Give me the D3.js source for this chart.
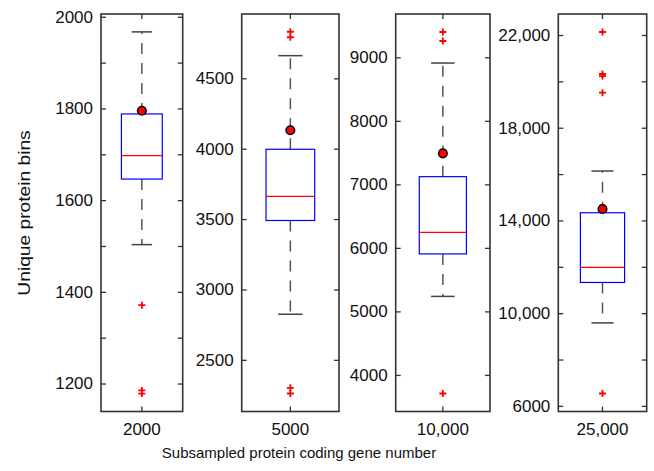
<!DOCTYPE html>
<html>
<head>
<meta charset="utf-8">
<script src="https://cdn.jsdelivr.net/npm/d3@7"></script>
<style>
  body { margin: 0; background: #fff; }
  text { font-family: "Liberation Sans", Arial, Helvetica, sans-serif; fill: #111; }
</style>
</head>
<body>
<div id="chart"></div>
<script>
// # Data.
const categories = ['2000', '5000', '10,000', '25,000']
const q1 = [1646, 3490, 5905, 11325]
const medians = [1697, 3661, 6243, 11972]
const q3 = [1788, 3996, 7121, 14332]
const whiskerLow = [1503, 2824, 5236, 9581]
const whiskerHigh = [1967, 4661, 8910, 16132]
const means = [1795, 4131, 7488, 14492]
const outliers = [
    [1371, 1185, 1178],
    [4831, 4792, 2301, 2261],
    [9399, 9257, 3707],
    [22130, 20317, 20230, 19510, 6535]
]

// # Axis settings for each panel.
const yDomains = [[1139, 2006], [2133, 4957], [3424, 9682], [5758, 22906]]
const majorTicks = [
    [1200, 1400, 1600, 1800, 2000],
    [2500, 3000, 3500, 4000, 4500],
    [4000, 5000, 6000, 7000, 8000, 9000],
    [6000, 10000, 14000, 18000, 22000]
]
const minorTicks = [
    [1300, 1500, 1700, 1900],
    [],
    [],
    [8000, 12000, 16000, 20000]
]

// # Layout.
const width = 654
const height = 471
const panelX = [[101, 182.7], [241.7, 339], [395.7, 490], [558.3, 646.7]]
const plotTop = 14
const plotBottom = 411.5
const tickLen = 5
const fontSize = 17

const tickFormat = (v) => v >= 10000 ? d3.format(',')(v) : String(v)

const svg = d3.select('#chart')
    .append('svg')
    .attr('width', width)
    .attr('height', height)

categories.forEach((cat, i) => {
    const x = d3.scaleBand()
        .domain([cat])
        .range(panelX[i])
        .paddingInner(0)
        .paddingOuter(0.5)
    const y = d3.scaleLinear()
        .domain(yDomains[i])
        .range([plotBottom, plotTop])

    const g = svg.append('g').attr('class', 'panel')
    const [x0, x1] = panelX[i]

    // # Left axis with labels.
    g.append('g')
        .attr('transform', `translate(${x0},0)`)
        .call(d3.axisLeft(y).tickValues(majorTicks[i]).tickFormat(tickFormat)
            .tickSizeInner(-tickLen).tickSizeOuter(0).tickPadding(8))
        .call(a => a.select('.domain').remove())
        .call(a => a.selectAll('text').style('font-size', fontSize + 'px'))
    // # Minor ticks left.
    g.append('g')
        .attr('transform', `translate(${x0},0)`)
        .call(d3.axisLeft(y).tickValues(minorTicks[i]).tickFormat('')
            .tickSizeInner(-tickLen).tickSizeOuter(0))
        .call(a => a.select('.domain').remove())
    // # Right side ticks.
    g.append('g')
        .attr('transform', `translate(${x1},0)`)
        .call(d3.axisRight(y).tickValues(majorTicks[i].concat(minorTicks[i])).tickFormat('')
            .tickSizeInner(-tickLen).tickSizeOuter(0))
        .call(a => a.select('.domain').remove())
    // # Bottom axis with category label.
    g.append('g')
        .attr('transform', `translate(0,${plotBottom})`)
        .call(d3.axisBottom(x).tickSizeInner(-tickLen).tickSizeOuter(0).tickPadding(11))
        .call(a => a.select('.domain').remove())
        .call(a => a.selectAll('text').style('font-size', fontSize + 'px'))
    // # Top ticks.
    g.append('g')
        .attr('transform', `translate(0,${plotTop})`)
        .call(d3.axisTop(x).tickFormat('').tickSizeInner(-tickLen).tickSizeOuter(0))
        .call(a => a.select('.domain').remove())

    g.selectAll('.tick line').attr('stroke', '#333').attr('stroke-width', 1.3)

    // # Frame.
    g.append('rect')
        .attr('x', x0).attr('y', plotTop)
        .attr('width', x1 - x0).attr('height', plotBottom - plotTop)
        .attr('fill', 'none')
        .attr('stroke', '#333')
        .attr('stroke-width', 1.6)

    const cx = x(cat) + x.bandwidth() / 2
    const bw = x.bandwidth()

    // # Whiskers (dashed) and caps.
    const whisk = [[q3[i], whiskerHigh[i]], [q1[i], whiskerLow[i]]]
    whisk.forEach(([from, to]) => {
        g.append('line')
            .attr('x1', cx).attr('x2', cx)
            .attr('y1', y(from)).attr('y2', y(to))
            .attr('stroke', '#555')
            .attr('stroke-width', 1.5)
            .attr('stroke-dasharray', '11,9')
        g.append('line')
            .attr('x1', cx - bw / 4).attr('x2', cx + bw / 4)
            .attr('y1', y(to)).attr('y2', y(to))
            .attr('stroke', '#444')
            .attr('stroke-width', 1.5)
    })

    // # Box.
    g.append('rect')
        .attr('x', x(cat))
        .attr('y', y(q3[i]))
        .attr('width', bw)
        .attr('height', y(q1[i]) - y(q3[i]))
        .attr('fill', 'none')
        .attr('stroke', '#0000ff')
        .attr('stroke-width', 1.2)

    // # Median.
    g.append('line')
        .attr('x1', x(cat)).attr('x2', x(cat) + bw)
        .attr('y1', y(medians[i])).attr('y2', y(medians[i]))
        .attr('stroke', '#ff0000')
        .attr('stroke-width', 1.2)

    // # Outliers as red plus markers.
    g.selectAll('.outlier')
        .data(outliers[i])
        .enter().append('path')
        .attr('class', 'outlier')
        .attr('d', d => `M${cx - 3.5},${y(d)}H${cx + 3.5}M${cx},${y(d) - 3.5}V${y(d) + 3.5}`)
        .attr('stroke', '#ff0000')
        .attr('stroke-width', 1.8)
        .attr('fill', 'none')

    // # Mean dot.
    g.append('circle')
        .attr('cx', cx)
        .attr('cy', y(means[i]))
        .attr('r', 4.3)
        .attr('fill', '#ff0000')
        .attr('stroke', '#000')
        .attr('stroke-width', 1.5)
})

// # Axis titles.
svg.append('text')
    .attr('x', 299)
    .attr('y', 458)
    .attr('text-anchor', 'middle')
    .style('font-size', '15px')
    .text('Subsampled protein coding gene number')

// # The y title in the picture is stretched along its length.
svg.append('text')
    .attr('transform', 'translate(30,213) rotate(-90) scale(1.2,1)')
    .attr('text-anchor', 'middle')
    .style('font-size', '16px')
    .text('Unique protein bins')
</script>
</body>
</html>
